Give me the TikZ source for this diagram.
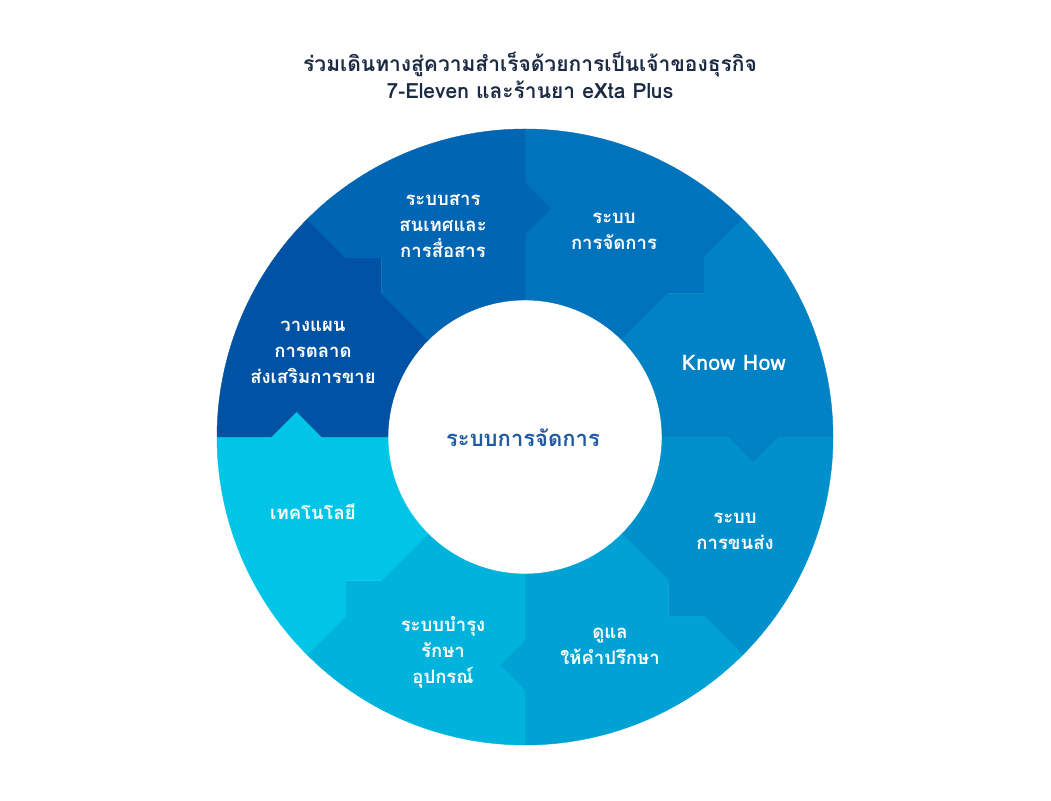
\documentclass[tikz,border=0pt]{standalone}
\usepackage{fontspec}
\newfontfamily\thai[Script=Thai]{Loma}
\definecolor{segA}{HTML}{0073BD}
\definecolor{segB}{HTML}{0082C4}
\definecolor{segC}{HTML}{0091CC}
\definecolor{segD}{HTML}{00A2D4}
\definecolor{segE}{HTML}{00B3DC}
\definecolor{segF}{HTML}{00C5E6}
\definecolor{segG}{HTML}{0052A5}
\definecolor{segH}{HTML}{0065B3}
\definecolor{titlec}{HTML}{1C2A44}
\definecolor{centc}{HTML}{1F5AA6}
\tikzset{
  lab/.style={text=white, align=center, font=\thai\bfseries\fontsize{18.5}{26}\selectfont, inner sep=0pt},
  ttl/.style={text=titlec, align=center, font=\thai\bfseries\fontsize{21}{27}\selectfont, inner sep=0pt},
  cent/.style={text=centc, font=\thai\bfseries\fontsize{22}{26}\selectfont, inner sep=0pt}
}
\begin{document}
\begin{tikzpicture}[x=1pt,y=1pt]
\useasboundingbox[fill=white] (0,0) rectangle (1051,800);
\begin{scope}[shift={(525,363)}]
\foreach \a/\c in {90/segA,45/segB,0/segC,-45/segD,-90/segE,-135/segF,180/segG,135/segH}{
  \pgfmathsetmacro\b{\a-45}
  \pgfmathsetmacro\bt{\a-45-6.37}
  \pgfmathsetmacro\at{\a-6.37}
  \fill[\c, draw=\c, line width=0.4pt] (\a:308) arc[start angle=\a, end angle=\b, radius=308]
    -- (\b:254) -- (\bt:229.9) -- (\b:203) -- (\b:137)
    arc[start angle=\b, end angle=\a, radius=137]
    -- (\a:203) -- (\at:229.9) -- (\a:254) -- cycle;
}
\end{scope}
\node[ttl] (title) at (530,725) {ร่วมเดินทางสู่ความสำเร็จด้วยการเป็นเจ้าของธุรกิจ\\7-Eleven และร้านยา eXta Plus};
\node[cent] (center) at (523,362) {ระบบการจัดการ};
\node[lab] (lH) at (443,574) {ระบบสาร\\สนเทศและ\\การสื่อสาร};
\node[lab] (lA) at (614,569) {ระบบ\\การจัดการ};
\node[lab, font=\thai\bfseries\fontsize{21.5}{26}\selectfont] (lB) at (734,437) {Know How};
\node[lab] (lC) at (735,269) {ระบบ\\การขนส่ง};
\node[lab] (lD) at (610,154) {ดูแล\\ให้คำปรึกษา};
\node[lab] (lE) at (443,148) {ระบบบำรุง\\รักษา\\อุปกรณ์};
\node[lab] (lF) at (313,288) {เทคโนโลยี};
\node[lab] (lG) at (313,448) {วางแผน\\การตลาด\\ส่งเสริมการขาย};
\end{tikzpicture}
\end{document}
